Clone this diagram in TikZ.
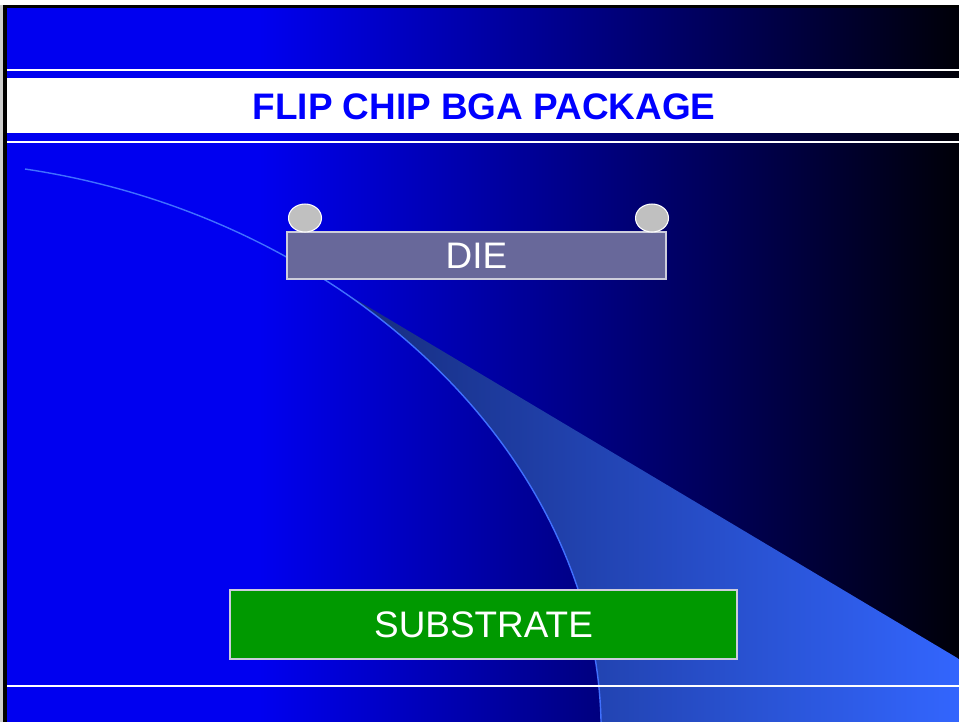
\documentclass[tikz,border=0pt]{standalone}
\usepackage{fontspec}
\setmainfont{Liberation Sans}
\usepackage{tikz}
\usetikzlibrary{shapes.geometric}
\definecolor{slideblue}{RGB}{0,0,240}
\definecolor{slidedark}{RGB}{0,0,6}
\definecolor{wedgeleft}{RGB}{22,44,125}
\definecolor{wedgeright}{RGB}{51,102,255}
\definecolor{arcline}{RGB}{64,112,255}
\definecolor{diefill}{RGB}{104,104,154}
\definecolor{ballfill}{RGB}{192,192,192}
\definecolor{subfill}{RGB}{0,153,0}
\definecolor{rimgray}{RGB}{205,205,220}

\begin{document}
\begin{tikzpicture}[
  box/.style={draw=rimgray, line width=0.3pt, text=white, inner sep=0pt, font=\fontsize{10.5}{12}\selectfont},
  bump/.style={ellipse, draw=white, line width=0.3pt, fill=ballfill, minimum width=0.33cm, minimum height=0.28cm, inner sep=0pt}]
\useasboundingbox (0cm,0cm) rectangle (9.59cm,-7.21cm);
\fill[white] (-0.05cm,0.05cm) rectangle (9.65cm,-7.3cm);
\fill[black!20] (-0.05cm,-0.05cm) rectangle (0.03cm,-7.3cm);
\fill[black] (0.03cm,-0.05cm) rectangle (9.65cm,-7.3cm);
\fill[slideblue] (0.065cm,-0.08cm) rectangle (2.6cm,-7.3cm);
\shade[left color=slideblue, right color=slidedark] (2.59cm,-0.08cm) rectangle (9.65cm,-7.3cm);
\begin{scope}
\clip (0.25cm,-1.69cm) .. controls (3.47cm,-2.17cm) and (5.95cm,-4.55cm) .. (6.01cm,-7.21cm) -- (6.02cm,-7.3cm) -- (9.65cm,-7.3cm) -- (9.65cm,-1.69cm) -- cycle;
\shade[left color=wedgeleft, right color=wedgeright] (3.45cm,-2.93cm) -- (9.59cm,-6.59cm) -- (9.65cm,-6.63cm) -- (9.65cm,-7.3cm) -- (3.45cm,-7.3cm) -- cycle;
\end{scope}
\draw[arcline, line width=0.4pt] (0.25cm,-1.69cm) .. controls (3.47cm,-2.17cm) and (5.95cm,-4.55cm) .. (6.01cm,-7.21cm) -- (6.02cm,-7.3cm);
\fill[white] (0.065cm,-0.69cm) rectangle (9.65cm,-0.71cm);
\fill[white] (0.065cm,-0.78cm) rectangle (9.65cm,-1.33cm);
\fill[white] (0.065cm,-1.41cm) rectangle (9.65cm,-1.43cm);
\node[text=blue, inner sep=0pt, font=\bfseries\fontsize{10.5}{12}\selectfont] (title) at (4.84cm,-1.065cm) {FLIP CHIP BGA PACKAGE};
\node[box, fill=diefill, minimum width=3.79cm, minimum height=0.47cm] (die) at (4.765cm,-2.555cm) {DIE};
\node[bump] (ballL) at (3.05cm,-2.18cm) {};
\node[bump] (ballR) at (6.52cm,-2.18cm) {};
\node[box, fill=subfill, minimum width=5.07cm, minimum height=0.69cm] (substrate) at (4.835cm,-6.245cm) {SUBSTRATE};
\fill[white] (0.065cm,-6.85cm) rectangle (9.65cm,-6.87cm);
\end{tikzpicture}
\end{document}
